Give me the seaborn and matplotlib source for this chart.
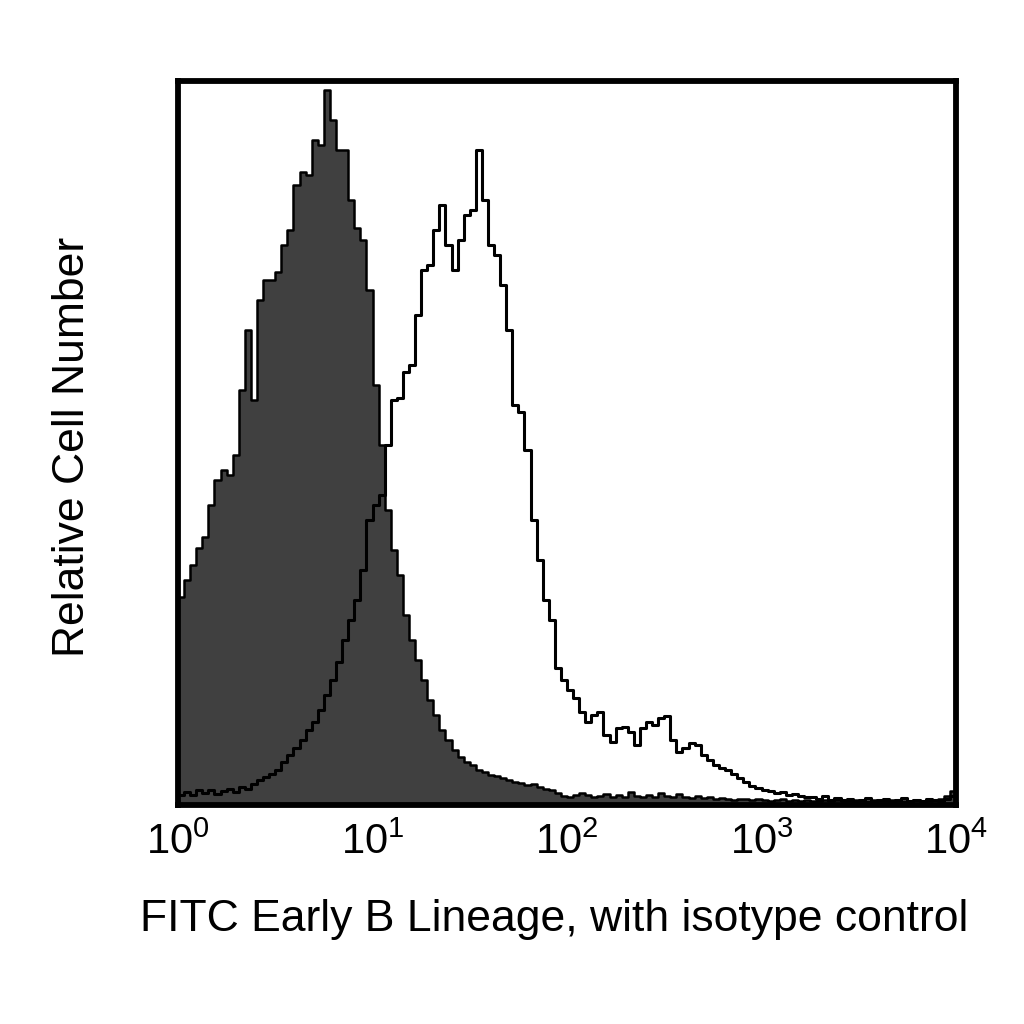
import numpy as np
import matplotlib
matplotlib.use("Agg")
import matplotlib.pyplot as plt
import seaborn as sns

# 128 log-spaced channels from 10^0 to 10^4, relative counts
n_bins = 128
isotype_counts = [
    208, 225, 240, 257, 268, 300, 325, 335, 330, 350,
    415, 475, 405, 505, 525, 525, 533, 560, 575, 620,
    633, 630, 665, 660, 715, 685, 655, 655, 605, 577,
    565, 515, 420, 360, 295, 255, 230, 190, 165, 145,
    125, 105, 90, 75, 65, 55, 48, 43, 40, 35,
    33, 30, 29, 27, 25, 23, 22, 20, 21, 18,
    16, 15, 12, 9, 8, 10, 12, 10, 8, 9,
    11, 8, 10, 8, 13, 9, 8, 10, 8, 12,
    9, 8, 11, 8, 7, 9, 7, 8, 6, 7,
    6, 5, 6, 6, 5, 6, 5, 4, 5, 6,
    4, 5, 4, 5, 4, 4, 5, 4, 5, 4,
    4, 5, 4, 4, 5, 4, 4, 5, 4, 4,
    4, 5, 4, 4, 5, 6, 9, 14,
]
stained_counts = [
    10, 13, 10, 15, 12, 15, 11, 14, 16, 13,
    18, 16, 21, 25, 28, 31, 35, 43, 50, 57,
    65, 75, 83, 95, 110, 125, 143, 165, 185, 205,
    235, 285, 300, 310, 360, 405, 407, 433, 440, 490,
    535, 540, 575, 600, 560, 535, 565, 590, 595, 655,
    605, 560, 550, 520, 475, 400, 393, 355, 285, 245,
    205, 185, 137, 125, 115, 107, 93, 83, 90, 93,
    70, 63, 77, 78, 73, 60, 77, 83, 80, 87,
    89, 65, 53, 57, 62, 60, 50, 45, 40, 37,
    35, 31, 27, 23, 19, 17, 15, 14, 12, 13,
    10, 11, 9, 8, 8, 6, 9, 5, 7, 5,
    6, 4, 5, 7, 4, 5, 6, 4, 5, 7,
    4, 5, 4, 6, 5, 4, 6, 9,
]
x_label = "FITC Early B Lineage, with isotype control"
y_label = "Relative Cell Number"

# channel centres (log space) -> data space
centres = 10 ** ((np.arange(n_bins) + 0.5) * 4.0 / n_bins)

sns.set_style("white")
plt.rcParams['font.family'] = ['Liberation Sans', 'DejaVu Sans']
plt.rcParams['text.color'] = 'black'
plt.rcParams['axes.labelcolor'] = 'black'
plt.rcParams['xtick.color'] = 'black'

fig = plt.figure(figsize=(10.24, 10.24), dpi=100)
ax = fig.add_axes([178 / 1024, 1 - 805 / 1024, 778 / 1024, 724 / 1024])

sns.histplot(x=centres, weights=isotype_counts, bins=n_bins, binrange=(0, 4),
             log_scale=True, element="step", fill=True, color="#404040",
             alpha=1.0, edgecolor="black", linewidth=1.8, ax=ax)
sns.histplot(x=centres, weights=stained_counts, bins=n_bins, binrange=(0, 4),
             log_scale=True, element="step", fill=False, color="black",
             linewidth=2.2, ax=ax)

ax.set_xlim(1, 1e4)
ax.set_ylim(0, 724)
ax.set_yticks([])
ax.set_xticks([1, 10, 100, 1000, 10000])
ax.minorticks_off()
ax.tick_params(axis="x", length=0, pad=13, labelsize=30, labelcolor="black")
for s in ax.spines.values():
    s.set_linewidth(4.2)
    s.set_color("black")

ax.set_xlabel(x_label, fontsize=32)
ax.set_ylabel(y_label, fontsize=32)
ax.xaxis.set_label_coords((554 - 178) / 778, -(920 - 805) / 724)
ax.yaxis.set_label_coords(-(178 - 72) / 778, (805 - 447) / 724)
ax.xaxis.label.set_va("center")
ax.yaxis.label.set_va("center")

fig.savefig("out.png", dpi=100, facecolor="white")
